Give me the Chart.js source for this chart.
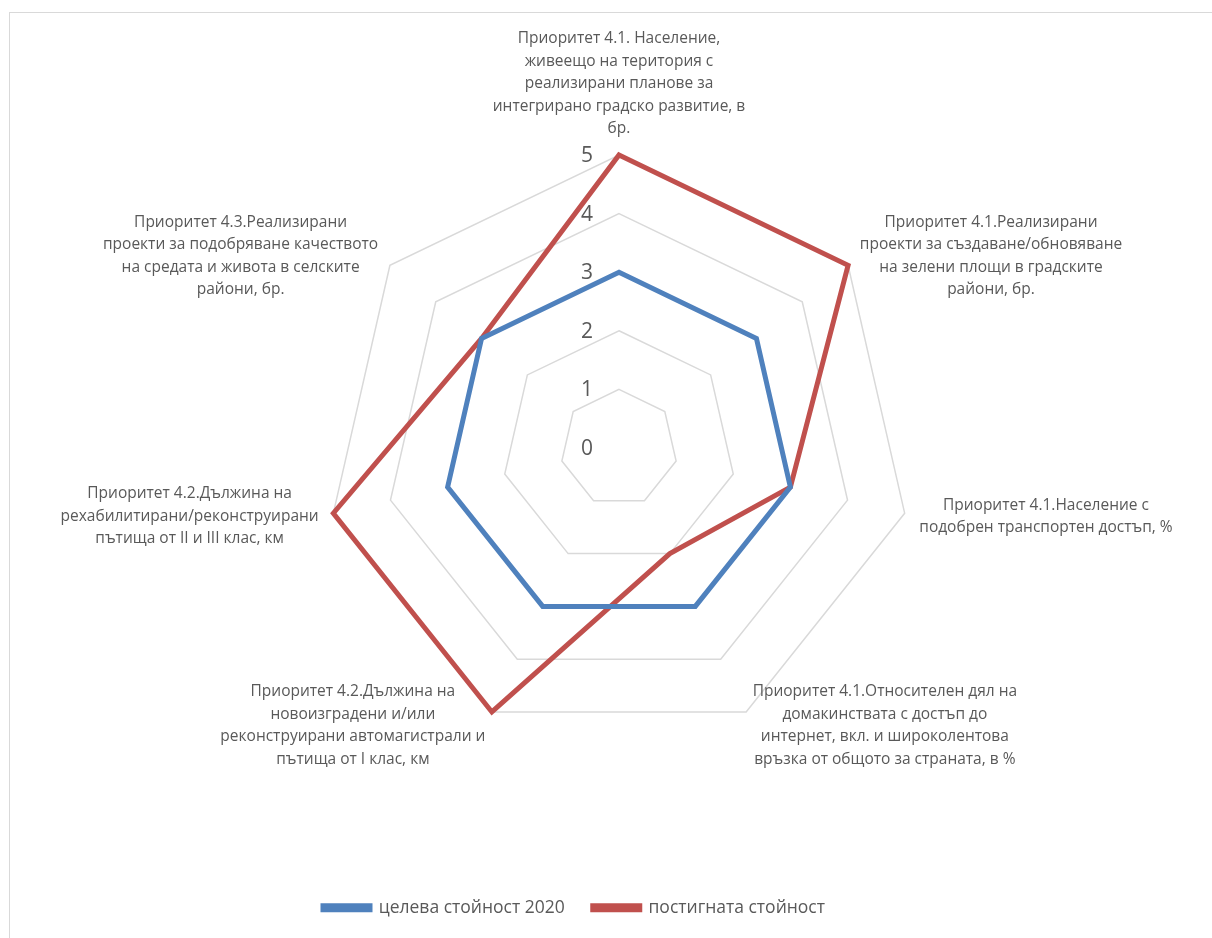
<!DOCTYPE html>
<html>
<head>
<meta charset="utf-8">
<script src="https://cdn.jsdelivr.net/npm/chart.js@4/dist/chart.umd.min.js"></script>
<style>
    body { margin: 0; background: #fff; }
    #wrap { position: relative; width: 1212px; height: 938px; overflow: hidden; }
    #frame { position: absolute; left: 9px; top: 12px; width: 1300px; height: 1000px; border-top: 1.5px solid #d9d9d9; border-left: 1.5px solid #d9d9d9; }
    canvas { position: absolute; left: 0; top: 0; }
</style>
</head>
<body>
<div id="wrap">
    <div id="frame"></div>
    <canvas id="radarChart" width="1212" height="938"></canvas>
</div>
<script>
const categories = [
    ['Приоритет 4.1. Население,', 'живеещо на територия с', 'реализирани планове за', 'интегрирано градско развитие, в', 'бр.'],
    ['Приоритет 4.1.Реализирани', 'проекти за създаване/обновяване', 'на зелени площи в градските', 'райони, бр.'],
    ['Приоритет 4.1.Население с', 'подобрен транспортен достъп, %'],
    ['Приоритет 4.1.Относителен дял на', 'домакинствата с достъп до', 'интернет, вкл. и широколентова', 'връзка от общото за страната, в %'],
    ['Приоритет 4.2.Дължина на', 'новоизградени и/или', 'реконструирани автомагистрали и', 'пътища от I клас, км'],
    ['Приоритет 4.2.Дължина на', 'рехабилитирани/реконструирани', 'пътища от II и III клас, км'],
    ['Приоритет 4.3.Реализирани', 'проекти за подобряване качеството', 'на средата и живота в селските', 'райони, бр.']
];
const targetValues = [3, 3, 3, 3, 3, 3, 3];
const achievedValues = [5, 5, 3, 2, 5, 5, 3];
const seriesNames = ['целева стойност 2020', 'постигната стойност'];
const tickValues = [0, 1, 2, 3, 4, 5];

const textColor = '#595959';
const labelFont = '15.5px "Open Sans", sans-serif';

// Excel style labels: centred lines, block anchored just outside the outer ring
const labelPlugin = {
    id: 'excelLabels',
    afterDraw(chart) {
        const scale = chart.scales.r;
        const ctx = chart.ctx;
        ctx.save();
        ctx.font = labelFont;
        ctx.fillStyle = textColor;
        ctx.textBaseline = 'middle';
        ctx.textAlign = 'center';
        const lineH = 22.5;
        categories.forEach((lines, i) => {
            const p = scale.getPointPosition(i, scale.drawingArea + 15);
            const blockW = Math.max(...lines.map(l => ctx.measureText(l).width));
            const blockH = lines.length * lineH;
            let cx, top;
            if (Math.abs(p.x - scale.xCenter) < 2) {
                cx = p.x;
                top = p.y - blockH;
            } else if (p.x > scale.xCenter) {
                cx = p.x + blockW / 2;
                top = p.y - blockH / 2;
            } else {
                cx = p.x - blockW / 2;
                top = p.y - blockH / 2;
            }
            lines.forEach((l, j) => ctx.fillText(l, cx, top + lineH * (j + 0.5)));
        });

        // tick labels left of the vertical axis
        ctx.font = '21px "Open Sans", sans-serif';
        ctx.textAlign = 'right';
        tickValues.forEach(v => {
            const d = scale.getDistanceFromCenterForValue(v);
            ctx.fillText(String(v), scale.xCenter - 26, scale.yCenter - d + 1);
        });
        ctx.restore();
    }
};

new Chart(document.getElementById('radarChart'), {
    type: 'radar',
    data: {
        labels: categories,
        datasets: [{
            label: seriesNames[0],
            data: targetValues,
            borderColor: '#4f81bd',
            backgroundColor: '#4f81bd',
            borderWidth: 5,
            fill: false,
            pointRadius: 0
        }, {
            label: seriesNames[1],
            data: achievedValues,
            borderColor: '#c0504d',
            backgroundColor: '#c0504d',
            borderWidth: 5,
            fill: false,
            pointRadius: 0
        }]
    },
    options: {
        responsive: false,
        animation: false,
        layout: { padding: { top: 155, bottom: 11.5, left: 295, right: 269 } },
        scales: {
            r: {
                min: 0,
                max: 5,
                ticks: { display: false, stepSize: 1 },
                pointLabels: { display: false },
                angleLines: { display: false },
                grid: { color: '#d9d9d9', lineWidth: 1.5 }
            }
        },
        plugins: {
            tooltip: { enabled: false },
            legend: {
                position: 'bottom',
                align: 'start',
                title: { display: true, text: '', padding: { top: 115.6, bottom: 0 } },
                labels: {
                    boxWidth: 47,
                    boxHeight: 4,
                    padding: 28,
                    color: textColor,
                    font: { family: '"Open Sans", sans-serif', size: 17.5 }
                }
            }
        }
    },
    plugins: [labelPlugin]
});
</script>
</body>
</html>
